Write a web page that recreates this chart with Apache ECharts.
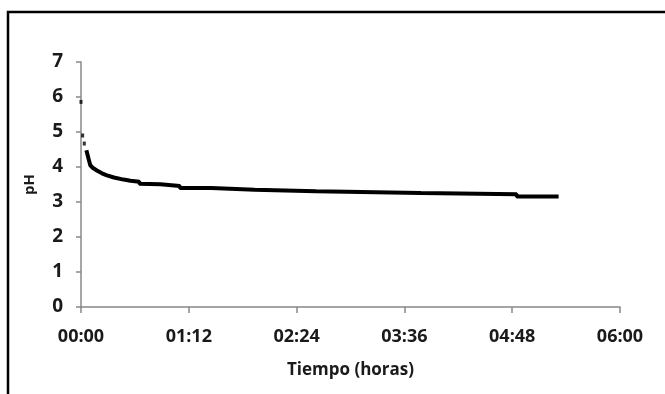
<!DOCTYPE html>
<html>
<head>
<meta charset="utf-8">
<script src="https://cdn.jsdelivr.net/npm/echarts@6/dist/echarts.min.js"></script>
<style>
html,body{margin:0;padding:0;background:#fff;}
#chart{width:665px;height:394px;}
</style>
</head>
<body>
<div id="chart"></div>
<script>
// time in minutes since start, pH values
const earlyTime = [0, 1.1, 2.2];
const earlyPH = [5.86, 4.9, 4.67];
const curveTime = [3.6, 5, 6.2, 8, 10.6, 14, 17.3, 22, 28.5, 33, 39, 39, 53, 53, 66, 66, 87, 87, 116, 116, 157, 157, 227, 227, 291, 291, 319];
const curvePH = [4.48, 4.24, 4.05, 3.97, 3.90, 3.82, 3.76, 3.70, 3.64, 3.61, 3.58, 3.52, 3.51, 3.46, 3.46, 3.40, 3.40, 3.35, 3.35, 3.31, 3.31, 3.26, 3.26, 3.22, 3.22, 3.16, 3.16];
const yTicks = [0, 1, 2, 3, 4, 5, 6, 7];
const xTickMinutes = [0, 72, 144, 216, 288, 360];

function fmt(m) {
  const h = Math.floor(m / 60), mm = Math.round(m % 60);
  return String(h).padStart(2, '0') + ':' + String(mm).padStart(2, '0');
}

const chart = echarts.init(document.getElementById('chart'), null, {renderer: 'canvas'});
const font = 'Open Sans';
chart.setOption({
  animation: false,
  backgroundColor: '#fff',
  graphic: [{
    type: 'rect',
    shape: {x: 8, y: 12, width: 720, height: 500},
    style: {fill: 'none', stroke: '#000', lineWidth: 2.5},
    silent: true
  }],
  grid: {left: 81, right: 45, top: 62, bottom: 87, containLabel: false},
  xAxis: {
    type: 'value',
    min: xTickMinutes[0],
    max: xTickMinutes[xTickMinutes.length - 1],
    interval: 72,
    name: 'Tiempo (horas)',
    nameLocation: 'middle',
    nameGap: 55,
    nameTextStyle: {fontFamily: font, fontWeight: 'bold', fontSize: 17, color: '#1a1a1a'},
    axisLine: {lineStyle: {color: '#888', width: 1.5}},
    axisTick: {show: true, length: 6, lineStyle: {color: '#888', width: 1.5}},
    splitLine: {show: false},
    axisLabel: {formatter: v => fmt(v), margin: 21, fontFamily: font, fontWeight: 'bold', fontSize: 18, color: '#1a1a1a'}
  },
  yAxis: {
    type: 'value',
    min: yTicks[0],
    max: yTicks[yTicks.length - 1],
    interval: 1,
    name: 'pH',
    nameLocation: 'middle',
    nameGap: 44,
    nameTextStyle: {fontFamily: font, fontWeight: 'bold', fontSize: 15, color: '#1a1a1a'},
    axisLine: {show: true, lineStyle: {color: '#888', width: 1.5}},
    axisTick: {show: true, length: 5, lineStyle: {color: '#888', width: 1.5}},
    splitLine: {show: false},
    axisLabel: {margin: 18, fontFamily: font, fontWeight: 'bold', fontSize: 19, color: '#1a1a1a'}
  },
  series: [
    {
      type: 'scatter',
      data: earlyTime.map((t, i) => [t, earlyPH[i]]),
      symbol: 'rect',
      symbolSize: [3, 4],
      itemStyle: {color: '#000'}
    },
    {
      type: 'line',
      data: curveTime.map((t, i) => [t, curvePH[i]]),
      showSymbol: false,
      lineStyle: {color: '#000', width: 4},
      smooth: false
    }
  ]
});
</script>
</body>
</html>
